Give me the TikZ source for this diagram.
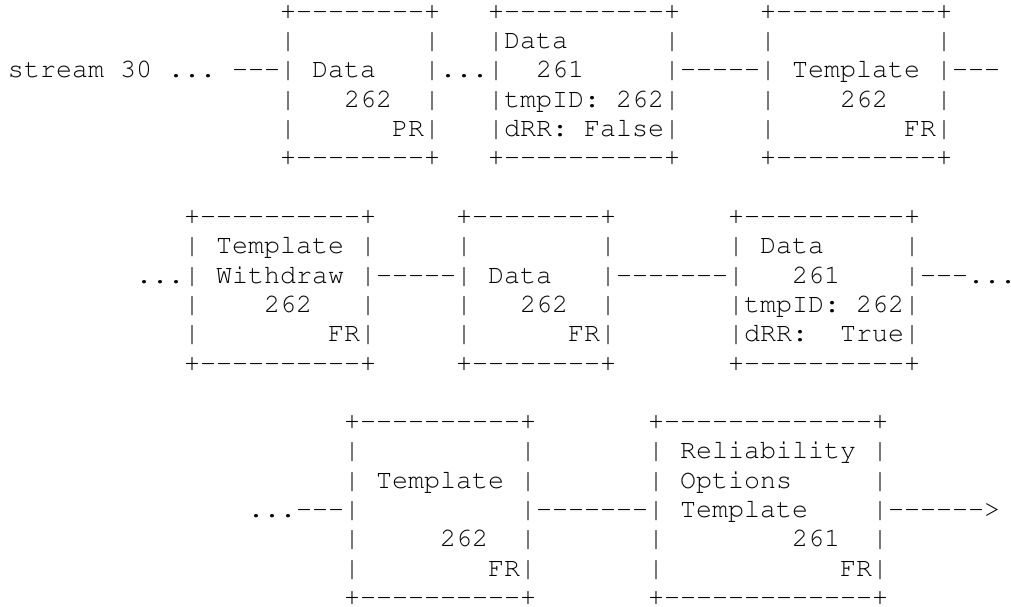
\documentclass[tikz,border=0pt]{standalone}
\usepackage[T1,TU]{fontenc}
\ExplSyntaxOn
\cs_new:Npn \Bk #1 { \prg_replicate:nn {#1} { \hphantom{x} } }
\cs_new:Npn \Ds #1 { \prg_replicate:nn {#1} { \hbox{-} } }
\ExplSyntaxOff
\newcommand\asciifont{\fontencoding{T1}\fontfamily{pcr}\fontseries{m}\fontshape{n}\fontsize{26.67}{29.3}\selectfont}
\tikzset{txt/.style={anchor=base west, inner sep=0pt, outer sep=0pt, font=\asciifont}}
\begin{document}
\begin{tikzpicture}
\path[use as bounding box] (0,0) rectangle (1011pt,-607pt);
% row A
\node[txt] (a0) at (8pt,-19.4pt) {\Bk{17}+\Ds{8}+\Bk{3}+\Ds{10}+\Bk{5}+\Ds{10}+};
\node[txt] (a1) at (8pt,-48.7pt) {\Bk{17}|\Bk{8}|\Bk{3}|Data\Bk{6}|\Bk{5}|\Bk{10}|};
\node[txt] (a2) at (8pt,-78.0pt) {stream\Bk{1}30\Bk{1}...\Bk{1}\Ds{3}|\Bk{1}Data\Bk{3}|...|\Bk{2}261\Bk{5}|\Ds{5}|\Bk{1}Template\Bk{1}|\Ds{3}};
\node[txt] (a3) at (8pt,-107.3pt) {\Bk{17}|\Bk{3}262\Bk{2}|\Bk{3}|tmpID:\Bk{1}262|\Bk{5}|\Bk{4}262\Bk{3}|};
\node[txt] (a4) at (8pt,-136.6pt) {\Bk{17}|\Bk{6}PR|\Bk{3}|dRR:\Bk{1}False|\Bk{5}|\Bk{8}FR|};
\node[txt] (a5) at (8pt,-165.9pt) {\Bk{17}+\Ds{8}+\Bk{3}+\Ds{10}+\Bk{5}+\Ds{10}+};
% row B
\node[txt] (b0) at (8pt,-224.5pt) {\Bk{11}+\Ds{10}+\Bk{5}+\Ds{8}+\Bk{7}+\Ds{10}+};
\node[txt] (b1) at (8pt,-253.8pt) {\Bk{11}|\Bk{1}Template\Bk{1}|\Bk{5}|\Bk{8}|\Bk{7}|\Bk{1}Data\Bk{5}|};
\node[txt] (b2) at (8pt,-283.1pt) {\Bk{8}...|\Bk{1}Withdraw\Bk{1}|\Ds{5}|\Bk{1}Data\Bk{3}|\Ds{7}|\Bk{3}261\Bk{4}|\Ds{3}...};
\node[txt] (b3) at (8pt,-312.4pt) {\Bk{11}|\Bk{4}262\Bk{3}|\Bk{5}|\Bk{3}262\Bk{2}|\Bk{7}|tmpID:\Bk{1}262|};
\node[txt] (b4) at (8pt,-341.7pt) {\Bk{11}|\Bk{8}FR|\Bk{5}|\Bk{6}FR|\Bk{7}|dRR:\Bk{2}True|};
\node[txt] (b5) at (8pt,-371.0pt) {\Bk{11}+\Ds{10}+\Bk{5}+\Ds{8}+\Bk{7}+\Ds{10}+};
% row C
\node[txt] (c0) at (8pt,-429.6pt) {\Bk{21}+\Ds{10}+\Bk{7}+\Ds{13}+};
\node[txt] (c1) at (8pt,-458.9pt) {\Bk{21}|\Bk{10}|\Bk{7}|\Bk{1}Reliability\Bk{1}|};
\node[txt] (c2) at (8pt,-488.2pt) {\Bk{21}|\Bk{1}Template\Bk{1}|\Bk{7}|\Bk{1}Options\Bk{5}|};
\node[txt] (c3) at (8pt,-517.5pt) {\Bk{15}...\Ds{3}|\Bk{10}|\Ds{7}|\Bk{1}Template\Bk{4}|\Ds{6}>};
\node[txt] (c4) at (8pt,-546.8pt) {\Bk{21}|\Bk{5}262\Bk{2}|\Bk{7}|\Bk{8}261\Bk{2}|};
\node[txt] (c5) at (8pt,-576.1pt) {\Bk{21}|\Bk{8}FR|\Bk{7}|\Bk{11}FR|};
\node[txt] (c6) at (8pt,-605.4pt) {\Bk{21}+\Ds{10}+\Bk{7}+\Ds{13}+};
\end{tikzpicture}
\end{document}
